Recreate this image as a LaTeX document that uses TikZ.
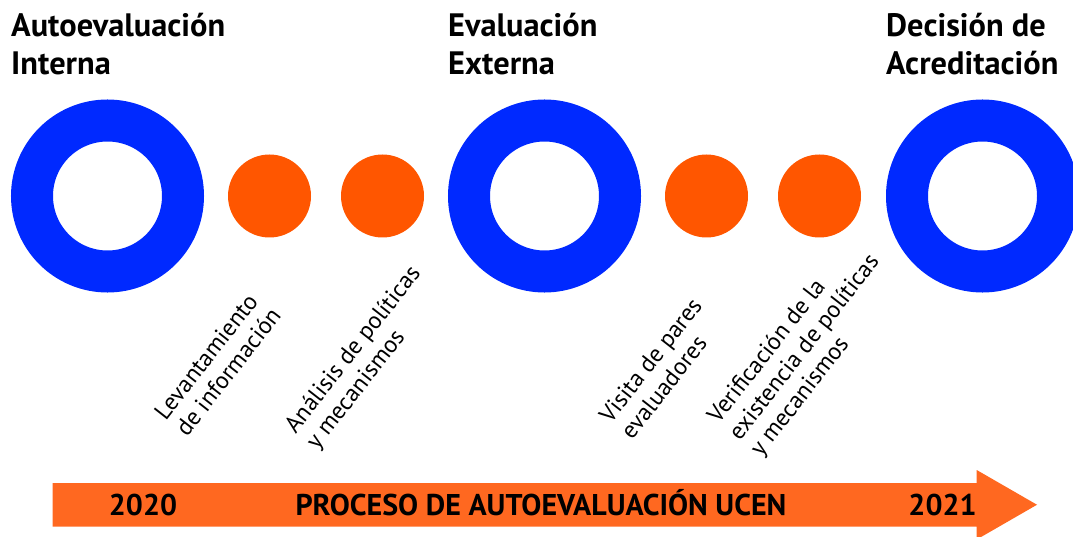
\documentclass[tikz,border=0pt]{standalone}
\usepackage{fontspec}
\setmainfont{PT Sans}
\usetikzlibrary{positioning,calc}
\definecolor{ringblue}{RGB}{0,41,255}
\definecolor{dotorange}{RGB}{255,86,0}
\definecolor{barorange}{RGB}{255,104,32}
\tikzstyle{ringbox}=[circle, draw=ringblue, line width=42pt, minimum size=151pt,
                    inner sep=0pt]
\tikzstyle{dotbox}=[circle, fill=dotorange, minimum size=83pt, inner sep=0pt,
                    outer sep=0pt]
\tikzstyle{titlebox}=[anchor=base west, inner sep=0pt, align=left,
                    font=\fontsize{32.4}{38}\selectfont\bfseries]
\tikzstyle{stepbox}=[anchor=base west, inner sep=0pt, align=left, rotate=52,
                    font=\fontsize{24}{27}\selectfont]
\tikzstyle{bartext}=[anchor=base, inner sep=0pt,
                    font=\fontsize{30}{32}\selectfont\bfseries]

\begin{document}
\begin{tikzpicture}[x=1pt, y=1pt, node distance=0pt]
\useasboundingbox (0,0) rectangle (1073,-537);

% timeline bar
\fill[barorange] (52.7,-483) -- (976.7,-483) -- (976.7,-470) -- (1037,-504.75)
 -- (976.7,-539.5) -- (976.7,-526.5) -- (52.7,-526.5) -- cycle;
\node (YRSTART) [bartext] at (143,-515) {2020};
\node (PROCTXT) [bartext] at (541,-515) {PROCESO DE AUTOEVALUACIÓN UCEN};
\node (YREND) [bartext] at (942.5,-515) {2021};

% milestones
\node (AUTOEV) [ringbox] at (107.5,-196) {};
\node (LEVINF) [dotbox, right=24pt of AUTOEV] {};
\node (ANAPOL) [dotbox, right=30pt of LEVINF] {};
\node (EVALEXT) [ringbox, right=24pt of ANAPOL] {};
\node (VISPAR) [dotbox, right=24pt of EVALEXT] {};
\node (VERPOL) [dotbox, right=30pt of VISPAR] {};
\node (DECACR) [ringbox, right=25pt of VERPOL] {};

\node (AUTOEVTXT) [titlebox] at (AUTOEV.west |- 0,-75) {Autoevaluación\\Interna};
\node (EVALEXTTXT) [titlebox] at (EVALEXT.west |- 0,-75) {Evaluación\\Externa};
\node (DECACRTXT) [titlebox] at (DECACR.west |- 0,-75) {Decisión de\\Acreditación};

% steps (anchored at the start of the last line)
\node (LEVINFTXT) [stepbox] at (187,-438) {Levantamiento\\de información};
\node (ANAPOLTXT) [stepbox] at (317,-451) {Análisis de políticas\\y mecanismos};
\node (VISPARTXT) [stepbox] at (632,-441) {Visita de pares\\evaluadores};
\node (VERPOLTXT) [stepbox] at (761,-458) {Verificación de la\\existencia de políticas\\y mecanismos};

\end{tikzpicture}
\end{document}
